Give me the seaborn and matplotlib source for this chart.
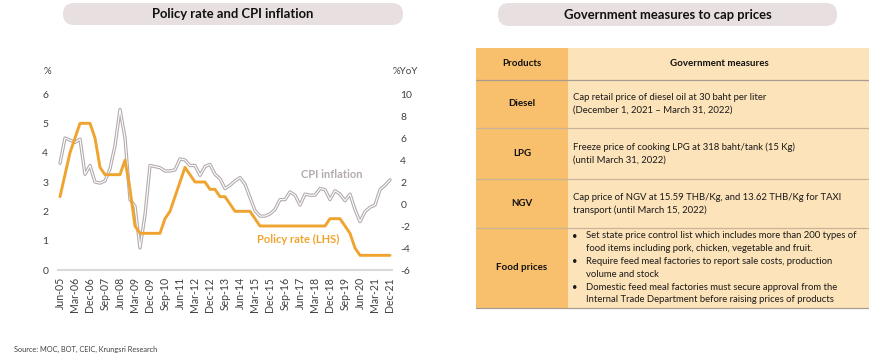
import numpy as np
import pandas as pd
import matplotlib
matplotlib.use("Agg")
import matplotlib.pyplot as plt
import seaborn as sns
from matplotlib.patches import Rectangle, FancyBboxPatch

# ---------------- data ----------------
tick_labels = ["Jun-05", "Mar-06", "Dec-06", "Sep-07", "Jun-08", "Mar-09", "Dec-09",
               "Sep-10", "Jun-11", "Mar-12", "Dec-12", "Sep-13", "Jun-14", "Mar-15",
               "Dec-15", "Sep-16", "Jun-17", "Mar-18", "Dec-18", "Sep-19", "Jun-20",
               "Mar-21", "Dec-21"]

# quarterly observations (Mar/Jun/Sep/Dec), Jun-05 .. Dec-21
policy_rate = [2.5, 3.25, 4.0,
               4.5, 5.0, 5.0, 5.0,
               4.5, 3.5, 3.25, 3.25,
               3.25, 3.25, 3.75, 2.75,
               1.5, 1.25, 1.25, 1.25,
               1.25, 1.25, 1.75, 2.0,
               2.5, 3.0, 3.5, 3.25,
               3.0, 3.0, 3.0, 2.75,
               2.75, 2.5, 2.5, 2.25,
               2.0, 2.0, 2.0, 2.0,
               1.75, 1.5, 1.5, 1.5,
               1.5, 1.5, 1.5, 1.5,
               1.5, 1.5, 1.5, 1.5,
               1.5, 1.5, 1.5, 1.75,
               1.75, 1.75, 1.5, 1.25,
               0.75, 0.5, 0.5, 0.5,
               0.5, 0.5, 0.5, 0.5]

cpi_inflation = [3.7, 6.0, 5.8,
                 5.6, 5.9, 2.7, 3.5,
                 2.0, 1.9, 2.1, 3.2,
                 5.3, 8.6, 6.0, 0.4,
                 -0.2, -4.0, -1.0, 3.5,
                 3.4, 3.3, 3.0, 3.0,
                 3.1, 4.1, 4.0, 3.5,
                 3.5, 2.6, 3.4, 3.6,
                 2.7, 2.3, 1.4, 1.7,
                 2.1, 2.4, 1.8, 0.6,
                 -0.6, -1.1, -1.1, -0.9,
                 -0.5, 0.4, 0.4, 1.1,
                 0.8, -0.1, 0.9, 0.8,
                 0.8, 1.4, 1.3, 0.4,
                 1.2, 0.9, 0.3, 0.9,
                 -0.5, -1.6, -0.7, -0.3,
                 -0.1, 1.3, 1.7, 2.2]

left_ticks = [0, 1, 2, 3, 4, 5, 6]
right_ticks = [-6, -4, -2, 0, 2, 4, 6, 8, 10]

products = ["Diesel", "LPG", "NGV", "Food prices"]
measures = [
    ["Cap retail price of diesel oil at 30 baht per liter",
     "(December 1, 2021 \u2013 March 31, 2022)"],
    ["Freeze price of cooking LPG at 318 baht/tank (15 Kg)",
     "(until March 31, 2022)"],
    ["Cap price of NGV at 15.59 THB/Kg, and 13.62 THB/Kg for TAXI",
     "transport (until March 15, 2022)"],
]
food_bullets = [
    ["Set state price control list which includes more than 200 types of",
     "food items including pork, chicken, vegetable and fruit."],
    ["Require feed meal factories to report sale costs, production",
     "volume and stock"],
    ["Domestic feed meal factories must secure approval from the",
     "Internal Trade Department before raising prices of products"],
]

# ---------------- style ----------------
sns.set_theme(style="white")
plt.rcParams["font.family"] = ["Lato", "DejaVu Sans"]

ORANGE = "#F0A430"
GRAY = "#B3ABAE"
TXT = "#404040"

W, H = 870, 359
fig = plt.figure(figsize=(W / 100, H / 100), dpi=100)

# overlay in pixel coordinates (banners, table, free text)
ov = fig.add_axes([0, 0, 1, 1])
ov.set_xlim(0, W)
ov.set_ylim(H, 0)
ov.axis("off")
ov.patch.set_alpha(0)

def banner(x0, x1, y0, y1, text):
    ov.add_patch(FancyBboxPatch((x0, y0), x1 - x0, y1 - y0,
                                boxstyle="round,pad=0,rounding_size=11",
                                facecolor="#E8DFE0", edgecolor="none"))
    ov.text((x0 + x1) / 2, (y0 + y1) / 2 + 0.5, text, ha="center", va="center",
            fontsize=9.4, fontweight="bold", color="#111111")

banner(63, 403, 3, 25, "Policy rate and CPI inflation")
banner(498, 837, 3, 26, "Government measures to cap prices")

# ---------------- chart ----------------
df = pd.DataFrame({"t": np.arange(len(policy_rate)),
                   "policy": policy_rate, "cpi": cpi_inflation})

ax = fig.add_axes([58 / W, 1 - 270 / H, 334 / W, 176 / H])
ax2 = ax.twinx()

sns.lineplot(data=df, x="t", y="cpi", ax=ax2, color=GRAY, linewidth=2.4)
sns.lineplot(data=df, x="t", y="cpi", ax=ax2, color="white", linewidth=0.8)
sns.lineplot(data=df, x="t", y="policy", ax=ax, color=ORANGE, linewidth=2.1)
ax.set_zorder(ax2.get_zorder() + 1)
ax.patch.set_visible(False)

ax.set_xlim(-0.4, len(policy_rate) - 1 + 0.4)
ax.set_ylim(0, 6)
ax2.set_ylim(-6, 10)
ax.set_xticks(np.arange(0, len(policy_rate), 3))
ax.set_xticklabels(tick_labels, rotation=90, fontsize=7.6, color=TXT)
ax.set_yticks(left_ticks)
ax.set_yticklabels([str(v) for v in left_ticks], fontsize=7.5, color=TXT)
ax2.set_yticks(right_ticks)
ax2.set_yticklabels([str(v) for v in right_ticks], fontsize=7.5, color=TXT)
for a in (ax, ax2):
    a.set_xlabel("")
    a.set_ylabel("")
    a.tick_params(length=0)
    for s in a.spines.values():
        s.set_visible(False)
ax.tick_params(axis="y", pad=7)
ax.tick_params(axis="x", pad=5)
ax2.tick_params(axis="y", pad=6)
ax.spines["bottom"].set_visible(True)
ax.spines["bottom"].set_color("#D9D9D9")
ax.spines["bottom"].set_linewidth(1.5)

ov.text(47, 72, "%", ha="center", va="center", fontsize=7, color=TXT)
ov.text(405, 72, "%YoY", ha="center", va="center", fontsize=7, color=TXT)
ov.text(332, 175, "CPI inflation", ha="center", va="center", fontsize=8,
        fontweight="bold", color=GRAY)
ov.text(298, 239, "Policy rate (LHS)", ha="center", va="center", fontsize=8,
        fontweight="bold", color=ORANGE)
ov.text(14, 349, "Source: MOC, BOT, CEIC, Krungsri Research", ha="left",
        va="center", fontsize=5.3, color=TXT)

# ---------------- table ----------------
row_y = [48, 80, 128, 179, 228, 308]
col_x = [476, 568, 870]
DARK = "#F8BF6C"
LIGHT = "#FDE3BA"
LINE = "#A89C90"
FS = 6.85
LS = 12.8

for i in range(len(row_y) - 1):
    y0, y1 = row_y[i], row_y[i + 1]
    ov.add_patch(Rectangle((col_x[0], y0), col_x[1] - col_x[0], y1 - y0,
                           facecolor=DARK, edgecolor="none"))
    ov.add_patch(Rectangle((col_x[1], y0), col_x[2] - col_x[1], y1 - y0,
                           facecolor=LIGHT, edgecolor="none"))
for j, y in enumerate(row_y[1:]):
    ov.plot([col_x[0], col_x[2]], [y, y], color=LINE if j in (0, 4) else "#C9B49A",
            lw=0.9)

ov.text((col_x[0] + col_x[1]) / 2, 64, "Products", ha="center", va="center",
        fontsize=FS + 0.2, fontweight="bold", color="#111111")
ov.text(719, 64, "Government measures", ha="center", va="center",
        fontsize=FS + 0.2, fontweight="bold", color="#111111")

for i, p in enumerate(products):
    yc = (row_y[i + 1] + row_y[i + 2]) / 2
    ov.text((col_x[0] + col_x[1]) / 2, yc, p, ha="center", va="center",
            fontsize=FS + 0.2, fontweight="bold", color="#111111")

for i, lines in enumerate(measures):
    yc = (row_y[i + 1] + row_y[i + 2]) / 2
    n = len(lines)
    for k, ln in enumerate(lines):
        ov.text(573, yc + (k - (n - 1) / 2) * LS, ln, ha="left", va="center",
                fontsize=FS, color="#1A1A1A")

yc = (row_y[4] + row_y[5]) / 2
all_lines = [(b, k) for b in range(len(food_bullets)) for k in range(2)]
n = len(all_lines)
for idx, (b, k) in enumerate(all_lines):
    y = yc + (idx - (n - 1) / 2) * LS
    if k == 0:
        ov.text(575, y, "\u2022", ha="center", va="center", fontsize=FS,
                color="#1A1A1A")
    ov.text(586, y, food_bullets[b][k], ha="left", va="center", fontsize=FS,
            color="#1A1A1A")

fig.savefig("out.png", dpi=100)
